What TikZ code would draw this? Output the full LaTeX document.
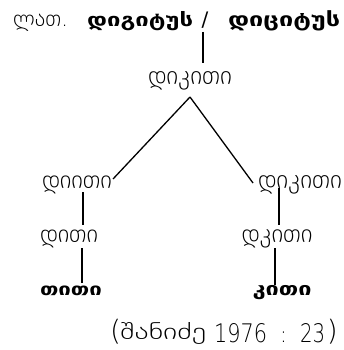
\documentclass[tikz,border=0pt]{standalone}
\usepackage{fontspec}
\setmainfont{DejaVu Sans}
\newfontfamily\geo{DejaVu Sans ExtraLight}
\newfontfamily\geob[FakeStretch=1.3]{DejaVu Sans Bold}
\newcommand{\fitw}[2]{\resizebox{#1pt}{!}{#2}}
\newcommand{\fitwh}[3]{\resizebox{#1pt}{#2pt}{#3}}
\begin{document}
\begin{tikzpicture}[x=1pt,y=-1pt,
  word/.style={inner sep=0pt, anchor=base, font=\fontsize{20}{24}\selectfont\geo},
  bword/.style={inner sep=0pt, anchor=base, font=\fontsize{20}{24}\selectfont\geob},
  paren/.style={inner sep=0pt, font=\fontsize{28}{30}\selectfont\geo},
  conn/.style={line width=1.3pt}]
\useasboundingbox (0,0) rectangle (343,350);
% top line
\node[word, anchor=base west] (lat) at (13,27) {\fitw{55}{ლათ.}};
\node[bword, anchor=base west] (dig) at (87,27) {\fitw{106}{დიგიტუს}};
\node[word, font=\fontsize{20}{24}\selectfont] (sl) at (205,27) {/};
\node[bword, anchor=base west] (dic) at (228,27) {\fitw{112}{დიციტუს}};
% tree
\node[word] (root) at (190,85) {\fitw{84}{დიკითი}};
\node[word] (l1) at (77,188) {\fitw{70}{დიითი}};
\node[word] (l2) at (69,242) {\fitw{58}{დითი}};
\node[bword] (l3) at (71,295) {\fitw{62}{თითი}};
\node[word] (r1) at (300,188) {\fitw{84}{დიკითი}};
\node[word] (r2) at (277,242) {\fitw{71}{დკითი}};
\node[bword] (r3) at (282,295) {\fitw{59}{კითი}};
% source
\node[paren, anchor=base west] (lp) at (110,340) {(};
\node[word, anchor=base west] (src1) at (120,339) {\fitwh{86}{17}{შანიძე}};
\node[word, anchor=base west] (src2) at (214,342) {\fitwh{53}{19}{1976}};
\node[word, font=\fontsize{22}{24}\selectfont\geo] (src3) at (283.5,342) {:};
\node[word, anchor=base west] (src4) at (300,342) {\fitwh{25}{19}{23}};
\node[paren, anchor=base east] (rp) at (338,340) {)};
% connector ends
\coordinate (t0) at (203,32);
\coordinate (t1) at (203,63);
\coordinate (ap) at (190,97);
\coordinate (la) at (113,179);
\coordinate (ra) at (253,183);
\coordinate (l1b) at (83,192);
\coordinate (l2t) at (83,225);
\coordinate (l2b) at (82,248);
\coordinate (l3t) at (82,283);
\coordinate (r1b) at (279,188);
\coordinate (r2t) at (279,225);
\coordinate (r2b) at (275,248);
\coordinate (r3t) at (275,285);
\draw[conn] (t0) -- (t1);
\draw[conn] (ap) -- (la);
\draw[conn] (ap) -- (ra);
\draw[conn] (l1b) -- (l2t);
\draw[conn] (l2b) -- (l3t);
\draw[conn] (r1b) -- (r2t);
\draw[conn] (r2b) -- (r3t);
\end{tikzpicture}
\end{document}
